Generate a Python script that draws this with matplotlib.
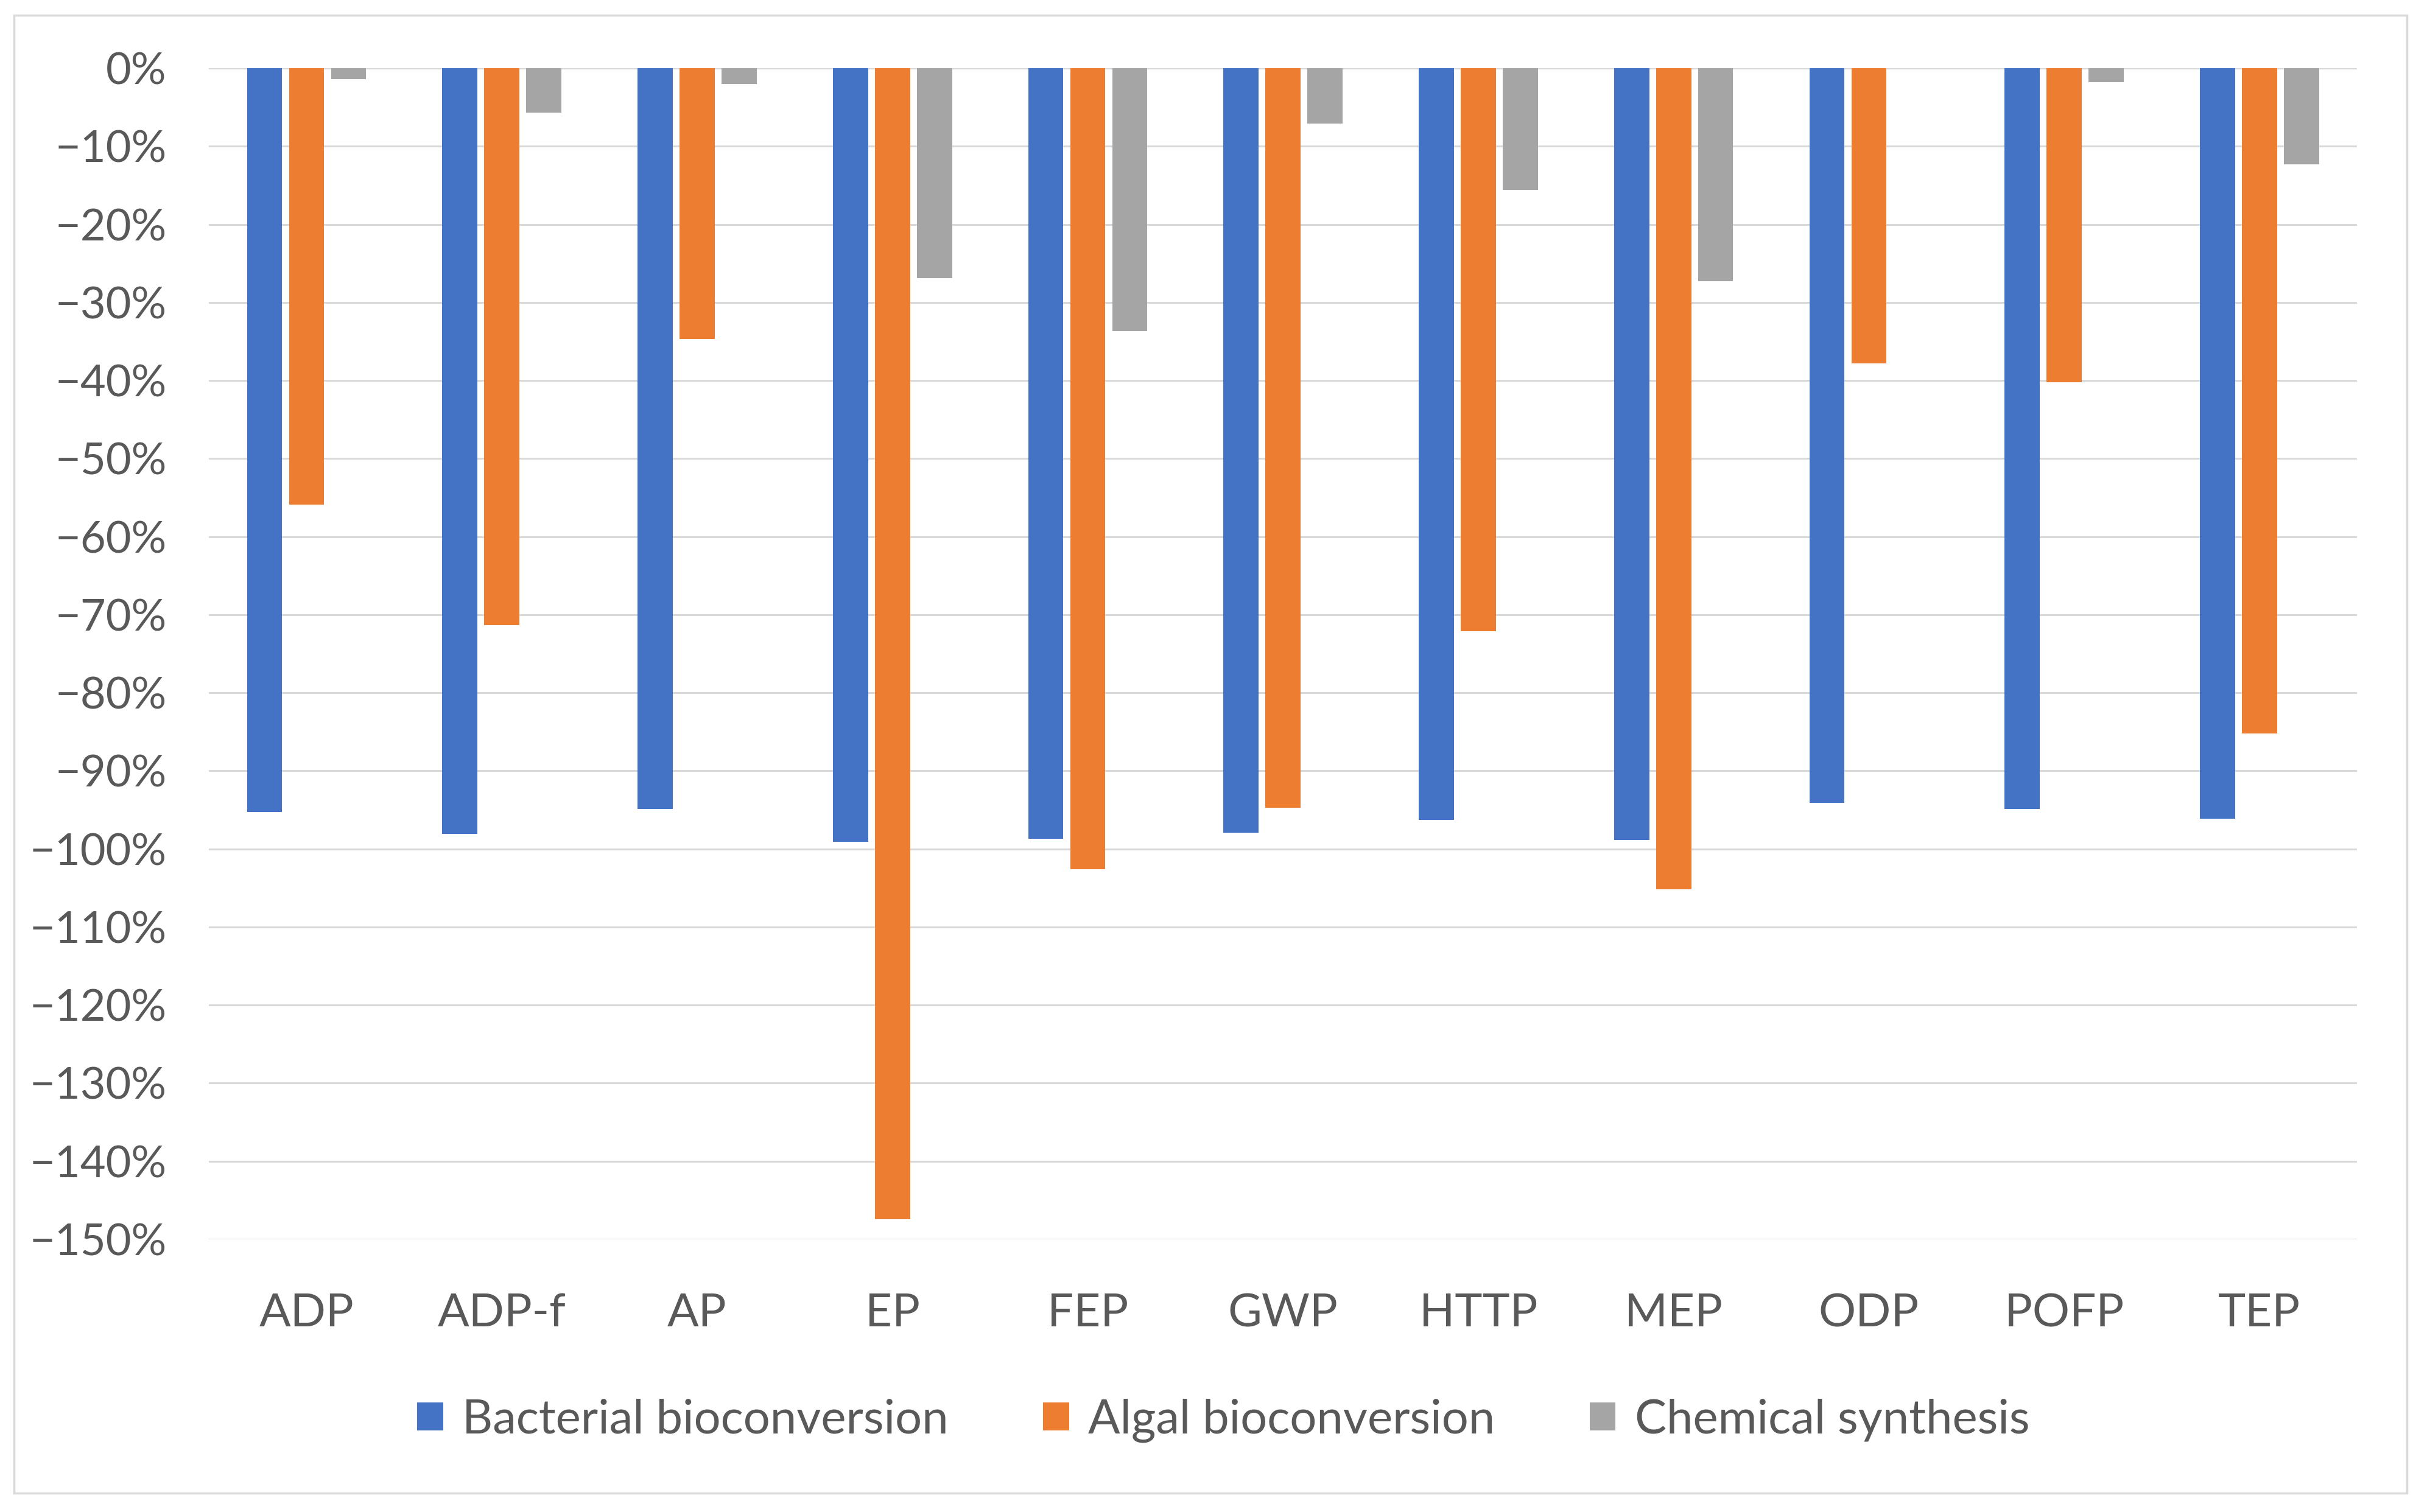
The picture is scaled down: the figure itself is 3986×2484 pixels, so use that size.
import matplotlib
matplotlib.use('Agg')
import matplotlib.pyplot as plt
import numpy as np
from matplotlib.patches import Rectangle
from matplotlib.ticker import FuncFormatter, MultipleLocator

# categories and series (fractions, negative = reduction)
categories = ['ADP', 'ADP-f', 'AP', 'EP', 'FEP', 'GWP', 'HTTP', 'MEP', 'ODP', 'POFP', 'TEP']
bacterial = [-0.953, -0.981, -0.949, -0.991, -0.987, -0.979, -0.963, -0.989, -0.941, -0.949, -0.961]
algal = [-0.559, -0.713, -0.347, -1.474, -1.026, -0.947, -0.721, -1.052, -0.378, -0.402, -0.852]
chemical = [-0.014, -0.057, -0.020, -0.269, -0.337, -0.071, -0.156, -0.273, 0.0, -0.018, -0.123]
series_names = ['Bacterial bioconversion', 'Algal bioconversion', 'Chemical synthesis']
colors = ['#4472C4', '#ED7D31', '#A5A5A5']

plt.rcParams['font.family'] = ['Lato', 'DejaVu Sans']
text_col = '#595959'

fig = plt.figure(figsize=(39.86, 24.84), dpi=100)
ax = fig.add_axes([0.0861, 0.1804, 0.8851, 0.7745])

x = np.arange(len(categories))
w = 0.18
step = 0.215
for i, (vals, name, c) in enumerate(zip([bacterial, algal, chemical], series_names, colors)):
    ax.bar(x + (i - 1) * step, vals, width=w, color=c, label=name, zorder=3)

ax.set_xlim(-0.5, len(categories) - 0.5)
ax.set_ylim(-1.5, 0)
ax.yaxis.set_major_locator(MultipleLocator(0.1))
ax.yaxis.set_major_formatter(FuncFormatter(lambda v, p: ('\u2212' if v < -1e-9 else '') + '%d%%' % round(abs(v) * 100)))
ax.grid(axis='y', color='#D9D9D9', linewidth=2.2, zorder=0)
ax.set_xticks(x)
ax.set_xticklabels(categories)

for s in ax.spines.values():
    s.set_visible(False)
ax.tick_params(axis='both', length=0, labelcolor=text_col)
ax.tick_params(axis='y', pad=50, labelsize=52)
ax.tick_params(axis='x', pad=63, labelsize=55)

fig.legend(loc='center', bbox_to_anchor=(0.504, 0.0605), ncol=3, frameon=False,
           fontsize=56, labelcolor=text_col, handlelength=0.55, handleheight=0.55,
           handletextpad=0.4, columnspacing=2.0)

# outer chart frame
fig.patches.append(Rectangle((23 / 3986, 1 - 2453 / 2484), 3930 / 3986, 2428 / 2484,
                             transform=fig.transFigure, fill=False,
                             edgecolor='#D9D9D9', linewidth=2.5))

fig.savefig('out.png', dpi=100, facecolor='white')
